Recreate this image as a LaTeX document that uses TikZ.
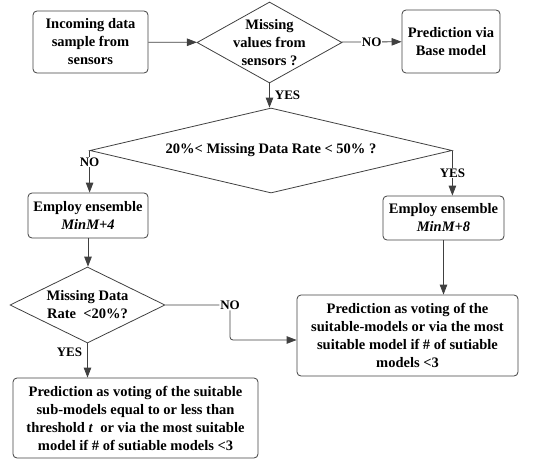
\documentclass[tikz,border=0pt]{standalone}
\usepackage{fontspec}
\setmainfont{Liberation Serif}
\usetikzlibrary{shapes.geometric,arrows.meta}

\tikzset{
  box/.style={draw=black!75, line width=0.8pt, rounded corners=4pt, align=center,
    font=\fontsize{14.5}{18}\selectfont\bfseries, inner sep=2pt},
  decision/.style={draw=black!75, line width=0.8pt, diamond, inner sep=0pt},
  dtext/.style={align=center, font=\fontsize{14.5}{18}\selectfont\bfseries},
  yesno/.style={font=\fontsize{13}{15}\selectfont\bfseries, fill=white, inner sep=1pt},
  link/.style={draw=black!75, line width=0.8pt, -{Triangle[length=10pt,width=7.5pt]}},
}

\begin{document}
\begin{tikzpicture}[x=1pt,y=1pt]
\useasboundingbox (0,0) rectangle (538,-460);
% top row
\node[box, minimum width=115pt, minimum height=62pt] (incoming) at (90.5,-42) {Incoming data\\sample from\\sensors};
\node[decision, minimum width=145pt, minimum height=81pt,
  label={[dtext]center:Missing\\values from\\sensors ?}] (missing) at (269.5,-42.5) {};
\node[box, minimum width=98pt, minimum height=63pt] (base) at (451,-41.5) {Prediction via\\Base model};
% rate check
\node[decision, minimum width=362pt, minimum height=85pt,
  label={[dtext]center:20\%< Missing Data Rate < 50\% ?}] (rate) at (271,-150.5) {};
\node[box, minimum width=120pt, minimum height=45pt] (ens4) at (88,-215.5) {Employ ensemble\\\textit{MinM+4}};
\node[box, minimum width=121pt, minimum height=44pt] (ens8) at (443.5,-218) {Employ ensemble\\\textit{MinM+8}};
\node[decision, minimum width=155pt, minimum height=76pt,
  label={[dtext]center:Missing Data\\Rate~~<20\%?}] (low) at (87.5,-305) {};
% predictions
\node[box, minimum width=221pt, minimum height=81pt] (vote) at (407.5,-335.5)
  {Prediction as voting of the\\suitable-models or via the most\\suitable model if \# of sutiable\\models <3};
\node[box, minimum width=245pt, minimum height=80pt] (subvote) at (135.5,-418)
  {Prediction as voting of the suitable\\sub-models equal to or less than\\threshold \textit{t}~ or via the most suitable\\model if \# of sutiable models <3};
% connectors
\draw[link] (incoming) -- (missing);
\draw[link] (missing) -- node[yesno]{NO} (base);
\draw[link] (missing.south) -- node[yesno, right=4pt, fill=none]{YES} (missing.south |- rate.north);
\draw[link] (rate.west) -- node[yesno, pos=0.27]{NO} (rate.west |- ens4.north);
\draw[link] (rate.east) -- node[yesno, pos=0.5]{YES} (rate.east |- ens8.north);
\draw[link] (ens4.south) -- (ens4.south |- low.north);
\draw[link] (ens8.south) -- (ens8.south |- vote.north);
\coordinate (bend) at (230,-305);
\draw[link, rounded corners=3pt] (low.east) -- (bend) node[yesno]{NO} |- ([yshift=-4.5pt]vote.west);
\draw[link] (low.south) -- node[yesno, left=4pt, pos=0.25, fill=none]{YES} (low.south |- subvote.north);
\end{tikzpicture}
\end{document}
